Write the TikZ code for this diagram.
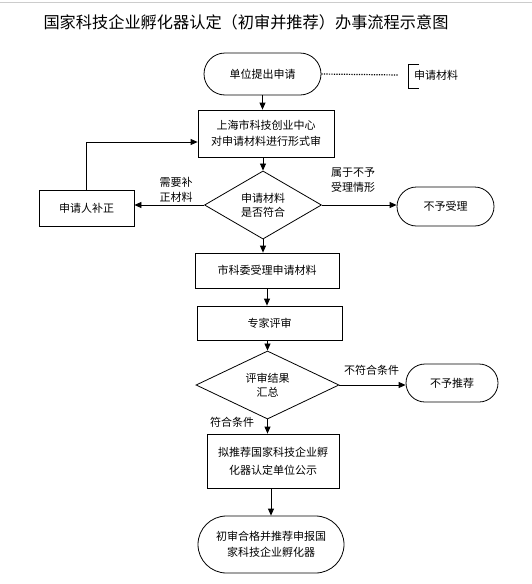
\documentclass[tikz,border=0pt]{standalone}
\usepackage{fontspec}
\setmainfont{Noto Sans CJK SC}
\usetikzlibrary{shapes.geometric,shapes.misc,arrows.meta}

\begin{document}
\begin{tikzpicture}[x=1pt,y=-1pt,
  font=\fontsize{11}{16}\selectfont,
  box/.style={rectangle,draw,line width=0.8pt,align=center,inner sep=0pt},
  term/.style={rounded rectangle,draw,line width=0.8pt,align=center,inner sep=0pt},
  decide/.style={diamond,draw,line width=0.8pt,align=center,inner sep=0pt,font=\fontsize{11}{14}\selectfont},
  flow/.style={line width=0.8pt,-{Triangle[length=7pt,width=6pt]}},
  lbl/.style={font=\fontsize{11}{15}\selectfont,align=center,inner sep=0pt}]
\useasboundingbox (0,0) rectangle (532,584);
\draw[gray!40] (0,2) -- (532,2);
\node[lbl,font=\fontsize{16.2}{18}\selectfont] (title) at (246,22) {国家科技企业孵化器认定（初审并推荐）办事流程示意图};
% nodes
\node[term,minimum width=117pt,minimum height=42pt] (start) at (262.5,74) {单位提出申请};
\coordinate (dotend) at (398,75);
\node[lbl,anchor=west] (mat) at (414,75) {申请材料};
\node[box,minimum width=136pt,minimum height=47pt] (check) at (266,133.5) {上海市科技创业中心\\对申请材料进行形式审};
\node[decide,minimum width=117pt,minimum height=61pt] (ok) at (263,205) {申请材料\\是否符合};
\node[box,minimum width=95pt,minimum height=36pt] (fix) at (86.5,208) {申请人补正};
\node[term,minimum width=97pt,minimum height=39pt] (reject) at (445.5,206.5) {不予受理};
\node[box,minimum width=144pt,minimum height=35pt] (accept) at (267,270.5) {市科委受理申请材料};
\node[box,minimum width=145pt,minimum height=34pt] (expert) at (269.5,323) {专家评审};
\node[decide,minimum width=143pt,minimum height=54pt] (sum) at (267.5,385) {评审结果\\汇总};
\node[term,minimum width=92pt,minimum height=38pt] (norec) at (452,383) {不予推荐};
\node[box,minimum width=132pt,minimum height=54pt,font=\fontsize{11}{18}\selectfont] (notice) at (273,461) {拟推荐国家科技企业孵\\化器认定单位公示};
\node[term,minimum width=146pt,minimum height=57pt] (final) at (271,544.5) {初审合格并推荐申报国\\家科技企业孵化器};
% connectors
\draw[line width=1.2pt,dash pattern=on 1.2pt off 1.3pt] (start.east) -- (dotend);
\draw[line width=0.8pt] ([xshift=5pt]mat.west |- 0,64) -- (408,64) -- (408,88) -- ([xshift=5pt]mat.west |- 0,88);
\draw[flow] (start.south) -- (start.south |- check.north);
\draw[flow] (ok.north |- check.south) -- (ok.north);
\draw[flow] (ok.west) -- (ok.west -| fix.east);
\node[lbl] (needfix) at (176,190) {需要补\\正材料};
\draw[flow] (fix.north) |- ([yshift=-8.5pt]check.west);
\draw[flow] (ok.east) -- (ok.east -| reject.west);
\node[lbl] (notacc) at (353,180) {属于不予\\受理情形};
\draw[flow] (ok.south) -- (ok.south |- accept.north);
\draw[flow] (accept.south) -- (accept.south |- expert.north);
\draw[flow] (sum.north |- expert.south) -- (sum.north);
\draw[flow] (sum.east) -- (sum.east -| norec.west);
\node[lbl] (nomatch) at (371.5,370) {不符合条件};
\draw[flow] (sum.south) -- (sum.south |- notice.north);
\node[lbl] (match) at (232,422) {符合条件};
\draw[flow] (final.north |- notice.south) -- (final.north);
\end{tikzpicture}
\end{document}
